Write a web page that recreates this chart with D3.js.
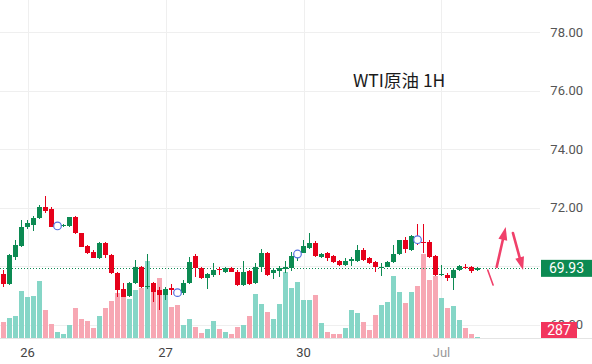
<!DOCTYPE html>
<html>
<head>
<meta charset="utf-8">
<script src="https://cdn.jsdelivr.net/npm/d3@7"></script>
<style>
  body { margin: 0; background: #fff; }
  svg { display: block; font-family: Roboto, "Noto Sans", sans-serif; }
</style>
</head>
<body>
<script>
// WTI 1H candles, one entry per hour slot (index 0..79)
var opens  = [69.74,69.40,70.33,70.69,71.33,71.41,71.64,72.04,71.96,71.36,
              71.38,71.38,71.70,71.13,70.69,70.50,70.27,70.81,70.39,69.78,
              69.21,68.99,69.42,69.97,69.30,69.42,69.19,69.02,69.25,69.12,
              69.08,69.42,70.35,69.93,69.59,69.70,69.91,69.82,69.95,69.82,
              69.36,69.85,69.42,69.99,70.47,69.76,69.85,69.91,69.93,70.40,
              70.47,70.64,70.81,70.33,70.44,70.35,70.19,70.03,70.18,70.19,
              70.56,70.27,70.16,69.93,69.99,70.16,70.41,70.90,70.56,71.00,
              70.84,70.84,70.35,69.70,69.70,69.59,69.87,69.99,69.96,69.88];
var highs  = [69.87,70.42,70.90,71.60,71.60,71.72,72.10,72.40,72.04,71.40,
              71.43,71.70,71.72,71.15,70.73,70.56,70.84,70.84,70.42,69.81,
              69.42,69.47,70.22,70.01,70.43,69.47,69.30,69.30,69.40,69.15,
              69.53,70.33,70.42,69.96,69.76,70.12,69.99,69.99,69.99,69.88,
              70.19,69.88,70.12,70.58,70.50,69.93,70.01,70.19,70.50,70.46,
              70.90,71.15,70.88,70.44,70.50,70.39,70.22,70.27,70.33,70.73,
              70.62,70.33,70.19,70.10,70.19,70.73,70.90,71.01,71.07,71.44,
              71.45,70.90,70.39,70.05,69.76,69.90,70.05,70.08,70.01,69.96];
var lows   = [69.28,69.36,70.22,70.65,71.26,71.22,71.62,71.83,71.34,71.33,
              71.33,71.35,71.11,70.65,70.42,70.27,70.25,70.27,69.74,68.94,
              68.94,68.94,69.40,69.25,69.23,68.79,68.51,68.85,69.02,69.05,
              69.02,69.38,69.62,69.55,69.23,69.62,69.70,69.78,69.82,69.33,
              69.33,69.36,69.40,69.82,69.67,69.55,69.62,69.78,69.85,70.18,
              70.45,70.60,70.33,70.27,70.19,70.12,70.01,70.01,70.01,70.16,
              70.19,70.08,69.82,69.67,69.96,70.12,70.39,70.44,70.53,70.73,
              70.44,70.30,69.67,69.67,69.51,69.19,69.85,69.90,69.78,69.85];
var closes = [69.40,70.39,70.73,71.35,71.47,71.66,72.04,71.90,71.36,71.38,
              71.41,71.67,71.13,70.67,70.44,70.30,70.81,70.39,69.76,69.19,
              68.96,69.42,69.97,69.28,69.33,69.13,69.02,69.21,69.19,69.08,
              69.42,70.16,69.93,69.59,69.74,69.87,69.87,69.93,69.82,69.36,
              69.82,69.40,69.99,70.44,69.70,69.87,69.93,69.96,70.35,70.43,
              70.69,70.79,70.35,70.42,70.30,70.16,70.03,70.18,70.24,70.56,
              70.22,70.10,69.99,69.99,70.16,70.42,70.90,70.58,71.04,70.94,
              70.81,70.33,69.70,69.72,69.59,69.87,70.01,69.93,69.85,69.93];
var volumes = [4240,5280,5720,12300,10740,10920,14820,7280,3640,1480,
               1040,3380,7880,5020,4500,2680,5720,7720,9700,11620,
               10740,10060,12480,13000,20100,13340,15520,12480,8140,8580,
               3380,4940,2940,1380,2340,4420,2340,1640,1040,2940,
               3380,5720,11440,8840,6760,4940,8840,17240,12920,14560,
               9880,9880,11180,3900,1640,1040,1040,2520,7280,6580,
               4240,2080,5980,8580,9280,16120,11880,9020,11880,13520,
               21840,15080,16120,10320,7720,8320,4680,2680,1040,287];

var priceTicks = [68, 70, 72, 74, 76, 78];
var dayIndex = [4, 27, 50, 73];
var dayLabels = ["26", "27", "30", "Jul"];

// event markers (circles) on the candles
var markerIndex = [9, 29, 49, 69];
var markerPrice = [71.38, 69.10, 70.42, 70.91];

// hand drawn red arrows: [index, price] start -> end, head or not
var arrowFrom = [[80.7, 69.87], [82.2, 69.98], [84.9, 71.14]];
var arrowTo   = [[81.6, 69.36], [83.7, 71.34], [86.6, 69.87]];
var arrowHead = [false, true, true];

var title = "WTI原油 1H";
var lastPrice = closes[closes.length - 1];
var lastVolume = volumes[volumes.length - 1];

var W = 592, H = 364;
var plotRight = 540, volBottom = 338;
var green = "#0c8a52", red = "#e6001a";
var volUp = "#86d6c7", volDown = "#f7a7b3";

var svg = d3.select("body").append("svg")
  .attr("width", W)
  .attr("height", H);

var x = d3.scaleLinear().domain([-0.5, 89.5]).range([0.5, plotRight + 0.5]);
var y = d3.scaleLinear().domain([68, 78]).range([324.8, 32.3]);
var yVol = d3.scaleLinear().domain([0, 26000]).range([volBottom, 238]);

// grid
svg.append("g").selectAll("line")
  .data(priceTicks)
  .enter().append("line")
  .attr("x1", 0).attr("x2", plotRight)
  .attr("y1", d => Math.round(y(d)) + 0.5)
  .attr("y2", d => Math.round(y(d)) + 0.5)
  .attr("stroke", "#efefef");

svg.append("g").selectAll("line")
  .data(dayIndex)
  .enter().append("line")
  .attr("x1", d => Math.round(x(d)) + 0.5)
  .attr("x2", d => Math.round(x(d)) + 0.5)
  .attr("y1", 0).attr("y2", volBottom)
  .attr("stroke", "#efefef");

svg.append("line")
  .attr("x1", 0).attr("x2", W)
  .attr("y1", volBottom + 0.5).attr("y2", volBottom + 0.5)
  .attr("stroke", "#e4e4e4");

var idx = d3.range(closes.length);

// volume bars
svg.append("g").selectAll("rect")
  .data(idx)
  .enter().append("rect")
  .attr("x", i => x(i) - 2.5)
  .attr("width", 5)
  .attr("y", i => yVol(volumes[i]))
  .attr("height", i => volBottom - yVol(volumes[i]))
  .attr("fill", i => closes[i] >= opens[i] ? volUp : volDown)
  .attr("shape-rendering", "crispEdges");

// last price dotted line
svg.append("line")
  .attr("x1", 0).attr("x2", plotRight)
  .attr("y1", Math.round(y(lastPrice)) + 0.5)
  .attr("y2", Math.round(y(lastPrice)) + 0.5)
  .attr("stroke", green)
  .attr("stroke-dasharray", "1,2");

// candles
var candle = svg.append("g").selectAll("g")
  .data(idx)
  .enter().append("g")
  .attr("shape-rendering", "crispEdges");

candle.append("rect")
  .attr("x", i => x(i) - 0.5)
  .attr("width", 1)
  .attr("y", i => y(highs[i]))
  .attr("height", i => y(lows[i]) - y(highs[i]))
  .attr("fill", i => closes[i] >= opens[i] ? green : red);

candle.append("rect")
  .attr("x", i => x(i) - 2.5)
  .attr("width", 5)
  .attr("y", i => y(Math.max(opens[i], closes[i])))
  .attr("height", i => Math.max(1, Math.abs(y(opens[i]) - y(closes[i]))))
  .attr("fill", i => closes[i] >= opens[i] ? green : red);

// markers
svg.append("g").selectAll("circle")
  .data(markerIndex)
  .enter().append("circle")
  .attr("cx", d => x(d))
  .attr("cy", (d, k) => y(markerPrice[k]))
  .attr("r", 3.8)
  .attr("fill", "#fff")
  .attr("stroke", "#5470e0")
  .attr("stroke-width", 1.2);

// arrows
var arrowColor = "#f0406a";
arrowFrom.forEach(function (f, k) {
  var x1 = x(f[0]), y1 = y(f[1]);
  var x2 = x(arrowTo[k][0]), y2 = y(arrowTo[k][1]);
  var ang = Math.atan2(y2 - y1, x2 - x1);
  var headLen = arrowHead[k] ? 13 : 0;
  var ex = x2 - headLen * 0.8 * Math.cos(ang), ey = y2 - headLen * 0.8 * Math.sin(ang);
  svg.append("line")
    .attr("x1", x1).attr("y1", y1)
    .attr("x2", ex).attr("y2", ey)
    .attr("stroke", arrowColor)
    .attr("stroke-width", arrowHead[k] ? 2.6 : 1.6)
    .attr("stroke-linecap", "round");
  if (arrowHead[k]) {
    var bx = x2 - headLen * Math.cos(ang), by = y2 - headLen * Math.sin(ang);
    var px = -Math.sin(ang) * 4.5, py = Math.cos(ang) * 4.5;
    svg.append("path")
      .attr("d", "M" + x2 + "," + y2 + "L" + (bx + px) + "," + (by + py) +
                 "L" + (bx - px) + "," + (by - py) + "Z")
      .attr("fill", arrowColor);
  }
});

// title
svg.append("text")
  .attr("x", 353).attr("y", 87)
  .attr("font-family", "'Noto Sans CJK SC', 'Noto Sans', sans-serif")
  .attr("font-size", 17.5)
  .attr("fill", "#1b1b1b")
  .text(title);

// right price axis (a tick hidden under the last price label is skipped)
var ly = y(lastPrice);
svg.append("g").selectAll("text")
  .data(priceTicks.filter(d => Math.abs(y(d) - ly) > 12))
  .enter().append("text")
  .attr("x", 583)
  .attr("y", d => y(d) + 4.5)
  .attr("text-anchor", "end")
  .attr("font-size", 13)
  .attr("fill", "#555")
  .text(d => d.toFixed(2));

// x axis labels
svg.append("g").selectAll("text")
  .data(dayIndex)
  .enter().append("text")
  .attr("x", d => x(d))
  .attr("y", 357)
  .attr("text-anchor", "middle")
  .attr("font-size", 13)
  .attr("fill", (d, k) => k === 3 ? "#999" : "#444")
  .text((d, k) => dayLabels[k]);

// last price label
svg.append("rect")
  .attr("x", 541).attr("y", ly - 8.5)
  .attr("width", 51).attr("height", 17)
  .attr("fill", green);
svg.append("text")
  .attr("x", 566.5).attr("y", ly + 5)
  .attr("text-anchor", "middle")
  .attr("font-size", 14)
  .attr("fill", "#fff")
  .text(lastPrice.toFixed(2));

// last volume label, kept inside the pane
var vy = Math.min(yVol(lastVolume), volBottom - 8);
svg.append("rect")
  .attr("x", 541).attr("y", vy - 8)
  .attr("width", 36).attr("height", 16)
  .attr("fill", "#f2355d");
svg.append("text")
  .attr("x", 559).attr("y", vy + 5)
  .attr("text-anchor", "middle")
  .attr("font-size", 14)
  .attr("fill", "#fff")
  .text(lastVolume);
</script>
</body>
</html>
